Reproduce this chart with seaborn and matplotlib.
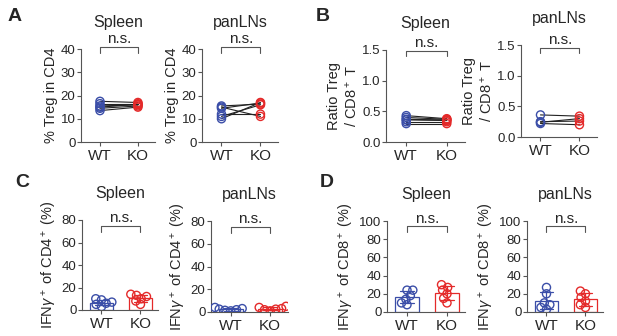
import numpy as np
import pandas as pd
import matplotlib
matplotlib.use("Agg")
import matplotlib.pyplot as plt
import seaborn as sns

sns.set_theme(style="ticks")
plt.rcParams['font.family'] = ['Liberation Sans', 'DejaVu Sans']
plt.rcParams['mathtext.fontset'] = 'custom'
plt.rcParams['mathtext.rm'] = 'Liberation Sans'
plt.rcParams['mathtext.it'] = 'Liberation Sans:italic'

groups = ["WT", "KO"]
tissues = ["Spleen", "panLNs"]

# Panel A: % Treg in CD4 (paired)
a_spleen_wt = [13.5, 14.5, 15.5, 16.5, 17.5, 15.0]
a_spleen_ko = [15.0, 15.5, 16.0, 16.5, 17.0, 16.2]
a_ln_wt = [10.0, 11.0, 12.0, 15.0, 15.5, 14.5]
a_ln_ko = [17.0, 16.0, 12.0, 11.0, 16.3, 16.8]

# Panel B: Ratio Treg / CD8+ T (paired)
b_spleen_wt = [0.30, 0.33, 0.36, 0.40, 0.43, 0.37]
b_spleen_ko = [0.30, 0.33, 0.35, 0.37, 0.38, 0.36]
b_ln_wt = [0.22, 0.24, 0.36, 0.25]
b_ln_ko = [0.20, 0.30, 0.34, 0.26]

# Panel C: IFNg+ of CD4+ (%)
c_spleen_wt = [3, 5, 6, 7, 9, 10]
c_spleen_ko = [5, 8, 10, 12, 13, 14]
c_ln_wt = [1.0, 1.5, 2.0, 2.5, 3.0, 4.0]
c_ln_ko = [1.0, 2.0, 2.5, 3.0, 4.0, 5.0]

# Panel D: IFNg+ of CD8+ (%)
d_spleen_wt = [8, 10, 14, 18, 24, 24]
d_spleen_ko = [10, 15, 20, 24, 27, 30]
d_ln_wt = [3, 5, 8, 10, 20, 27]
d_ln_ko = [5, 8, 12, 16, 20, 23]

BLUE = "#3b4ea8"
RED = "#e42a2a"
GRAY = "#555555"
pal = {"WT": BLUE, "KO": RED}

W, H = 617, 336
fig = plt.figure(figsize=(W / 100, H / 100), dpi=100)
swarm_collections = []


def make_ax(l, r, t, b):
    return fig.add_axes([l / W, 1 - b / H, (r - l) / W, (b - t) / H])


def style(ax, ymax, yticks, ylabel, title, blevel):
    ax.set_ylim(0, ymax)
    ax.set_yticks(yticks)
    ax.set_xlim(-0.5, 1.45)
    ax.set_xticks([0, 1])
    ax.set_xticklabels(groups, fontsize=11)
    ax.tick_params(axis='y', labelsize=9.5, length=3, width=0.8, color=GRAY, pad=1)
    ax.tick_params(axis='x', length=3, width=0.8, color=GRAY, pad=2)
    for s in ["top", "right"]:
        ax.spines[s].set_visible(False)
    for s in ["left", "bottom"]:
        ax.spines[s].set_color(GRAY)
        ax.spines[s].set_linewidth(0.8)
    ax.set_ylabel(ylabel, fontsize=10.5, labelpad=2)
    ax.set_xlabel("")
    ax.set_title(title, fontsize=11.5, pad=16)
    # n.s. bracket
    y0 = ymax * blevel
    y1 = ymax * (blevel - 0.06)
    ax.plot([0, 0, 1, 1], [y1, y0, y0, y1], color=GRAY, lw=0.8, clip_on=False)
    ax.text(0.5, y0 + ymax * 0.01, "n.s.", ha="center", va="bottom", fontsize=11,
            clip_on=False)


def paired(ax, wt, ko, ymax, yticks, ylabel, title, blevel):
    n = len(wt)
    df = pd.DataFrame({
        "x": [0] * n + [1] * n,
        "y": wt + ko,
        "group": ["WT"] * n + ["KO"] * n,
        "pair": list(range(n)) * 2,
    })
    sns.lineplot(data=df, x="x", y="y", units="pair", estimator=None, color="#222222",
                 lw=0.8, ax=ax, legend=False)
    sns.scatterplot(data=df, x="x", y="y", hue="group", palette=pal, ax=ax, legend=False,
                    s=34, facecolor="none", linewidth=1.0, zorder=3)
    for c in ax.collections:
        c.set_facecolor("none")
        ec = [BLUE if g == "WT" else RED for g in df["group"]]
        c.set_edgecolor(ec)
    style(ax, ymax, yticks, ylabel, title, blevel)


def barpanel(ax, wt, ko, ymax, yticks, ylabel, title, blevel):
    df = pd.DataFrame({
        "group": ["WT"] * len(wt) + ["KO"] * len(ko),
        "y": wt + ko,
    })
    sns.barplot(data=df, x="group", y="y", hue="group", palette=pal, order=groups,
                fill=False, errorbar="sd", capsize=0.35, width=0.6, linewidth=0.9,
                err_kws={"linewidth": 0.9}, ax=ax, legend=False)
    n_before = len(ax.collections)
    sns.swarmplot(data=df, x="group", y="y", hue="group", palette=pal, order=groups,
                  size=4, ax=ax, legend=False, zorder=3)
    for c in ax.collections[n_before:]:
        if len(c.get_offsets()):
            swarm_collections.append(c)
    style(ax, ymax, yticks, ylabel, title, blevel)


# Row 1
ax = make_ax(81, 155, 49, 142)
paired(ax, a_spleen_wt, a_spleen_ko, 40, [0, 10, 20, 30, 40], "% Treg in CD4",
       tissues[0], 1.02)
ax = make_ax(202, 278, 49, 142)
paired(ax, a_ln_wt, a_ln_ko, 40, [0, 10, 20, 30, 40], "% Treg in CD4",
       tissues[1], 1.02)
ax = make_ax(386, 465, 50, 142)
paired(ax, b_spleen_wt, b_spleen_ko, 1.5, [0.0, 0.5, 1.0, 1.5],
       "Ratio Treg\n/ CD8$^+$ T", tissues[0], 0.99)
ax.set_yticklabels(["0.0", "0.5", "1.0", "1.5"])
ax = make_ax(521, 597, 45, 137)
paired(ax, b_ln_wt, b_ln_ko, 1.5, [0.0, 0.5, 1.0, 1.5],
       "Ratio Treg\n/ CD8$^+$ T", tissues[1], 0.97)
ax.set_yticklabels(["0.0", "0.5", "1.0", "1.5"])

# Row 2
ax = make_ax(82, 158, 220, 310)
barpanel(ax, c_spleen_wt, c_spleen_ko, 80, [0, 20, 40, 60, 80],
         "IFN$\\gamma^+$ of CD4$^+$ (%)", tissues[0], 0.93)
ax = make_ax(211, 288, 221, 312)
barpanel(ax, c_ln_wt, c_ln_ko, 80, [0, 20, 40, 60, 80],
         "IFN$\\gamma^+$ of CD4$^+$ (%)", tissues[1], 0.93)
ax = make_ax(387, 465, 221, 312)
barpanel(ax, d_spleen_wt, d_spleen_ko, 100, [0, 20, 40, 60, 80, 100],
         "IFN$\\gamma^+$ of CD8$^+$ (%)", tissues[0], 0.94)
ax = make_ax(527, 603, 221, 312)
barpanel(ax, d_ln_wt, d_ln_ko, 100, [0, 20, 40, 60, 80, 100],
         "IFN$\\gamma^+$ of CD8$^+$ (%)", tissues[1], 0.94)

# Panel letters
for letter, x, y in [("A", 8, 8), ("B", 316, 8), ("C", 15, 174), ("D", 320, 174)]:
    fig.text(x / W, 1 - y / H, letter, fontsize=14, fontweight="bold", va="top", ha="left")

# Freeze swarm layout computed with small markers, then draw as open circles
fig.canvas.draw()
for c in swarm_collections:
    if "draw" in c.__dict__:
        del c.draw
    fcs = c.get_facecolors()
    c.set_edgecolor(fcs)
    c.set_facecolor("none")
    c.set_linewidth(1.0)
    c.set_sizes([34])

fig.savefig("out.png", dpi=100)
